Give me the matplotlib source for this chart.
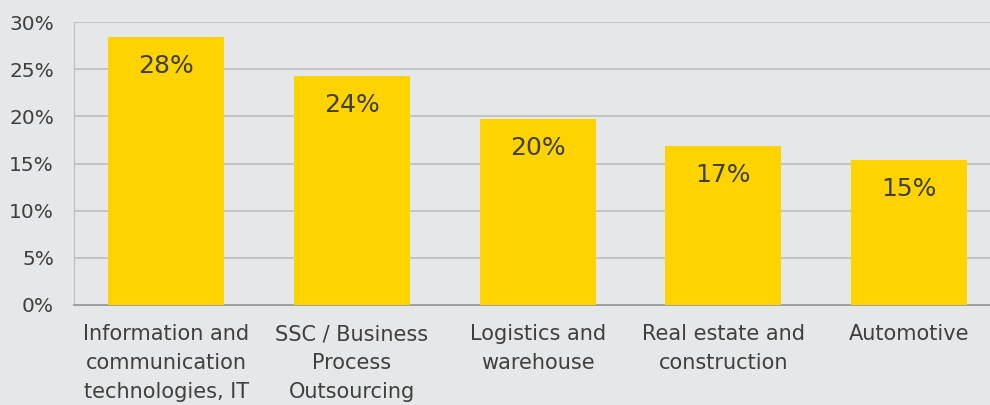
import matplotlib.pyplot as plt
from matplotlib.ticker import FuncFormatter

# Sectors and shares (%)
categories = ['Information and\ncommunication\ntechnologies, IT',
              'SSC / Business\nProcess\nOutsourcing',
              'Logistics and\nwarehouse',
              'Real estate and\nconstruction',
              'Automotive']
shares = [28.4, 24.3, 19.7, 16.9, 15.4]
labels = ['28%', '24%', '20%', '17%', '15%']
yticks = [0, 5, 10, 15, 20, 25, 30]

bg = '#e6e7e8'
bar_color = '#ffd300'
text_color = '#3f3f3f'

plt.rcParams['font.family'] = ['DejaVu Sans']

fig = plt.figure(figsize=(9.9, 4.05), dpi=100, facecolor=bg)
ax = fig.add_axes([73.5 / 990, 1 - 305 / 405, (1002 - 73.5) / 990, 283 / 405])
ax.set_facecolor(bg)

x = range(len(categories))
bars = ax.bar(x, shares, width=0.625, color=bar_color, zorder=3)

for bar, lab in zip(bars, labels):
    ax.annotate(lab, (bar.get_x() + bar.get_width() / 2, bar.get_height()),
                xytext=(0, -21), textcoords='offset points',
                ha='center', va='center', fontsize=18, color=text_color, zorder=4)

ax.set_xlim(-0.5, 4.5)
ax.set_ylim(0, 30)
ax.set_yticks(yticks)
ax.yaxis.set_major_formatter(FuncFormatter(lambda v, p: f'{v:.0f}%'))
ax.set_xticks(list(x))
ax.set_xticklabels(categories, linespacing=1.55)
ax.tick_params(axis='y', length=0, labelsize=14.5, colors=text_color, pad=14)
ax.tick_params(axis='x', length=0, labelsize=15, colors=text_color, pad=14)

ax.grid(axis='y', color='#bdbdbd', linewidth=1.2, zorder=0)
for s in ['top', 'right']:
    ax.spines[s].set_visible(False)
ax.spines['left'].set_color('#bdbdbd')
ax.spines['bottom'].set_color('#9a9a9a')
ax.spines['bottom'].set_linewidth(1.3)

fig.savefig('out.png', dpi=100, facecolor=bg)
